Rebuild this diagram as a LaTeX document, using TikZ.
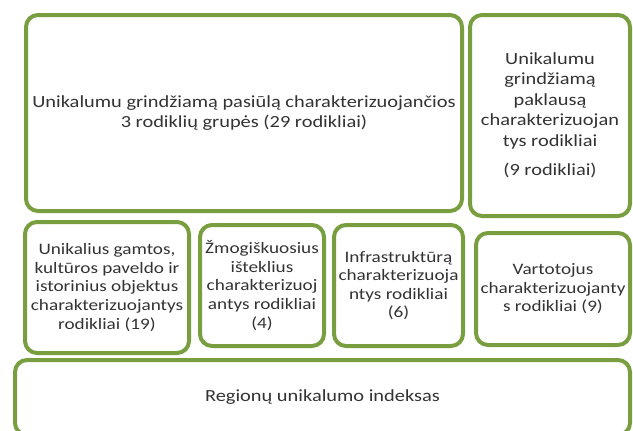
\documentclass[tikz,border=0pt]{standalone}
\usepackage{fontspec}
\setmainfont{Carlito}[FakeStretch=1.2]
\usepackage{tikz}
\definecolor{boxgreen}{RGB}{120,158,64}

\begin{document}
\begin{tikzpicture}[x=1pt, y=-1pt]
    % Styles
    \tikzstyle{group} = [rectangle, rounded corners=12pt, draw=boxgreen, line width=4pt, fill=white, align=center, inner sep=0pt, text=black!80]
    \tikzstyle{big} = [font=\fontsize{17}{20.5}\selectfont]
    \tikzstyle{small} = [font=\fontsize{16}{18.6}\selectfont]

    \useasboundingbox (0,0) rectangle (633,431);
    \clip (0,0) rectangle (633,431);

    % Top row
    \node[group, big, minimum width=436pt, minimum height=196pt] (supply) at (244,113) {Unikalumu grindžiamą pasiūlą charakterizuojančios\\3 rodiklių grupės (29 rodikliai)};
    \node[group, big, minimum width=160pt, minimum height=201pt] (demand) at (550,115.5) {Unikalumu\\grindžiamą\\paklausą\\charakterizuojan\\tys rodikliai\\[9pt](9 rodikliai)};

    % Middle row
    \node[group, small, minimum width=164pt, minimum height=131pt] (heritage) at (107,287.5) {Unikalius gamtos,\\kultūros paveldo ir\\istorinius objektus\\charakterizuojantys\\rodikliai (19)};
    \node[group, small, minimum width=124pt, minimum height=121pt] (human) at (262,285.5) {Žmogiškuosius\\išteklius\\charakterizuoj\\antys rodikliai\\(4)};
    \node[group, small, minimum width=129pt, minimum height=121pt] (infra) at (398.5,285.5) {Infrastruktūrą\\charakterizuoja\\ntys rodikliai\\(6)};
    \node[group, small, minimum width=154pt, minimum height=112pt] (visitors) at (553,289) {Vartotojus\\charakterizuojanty\\s rodikliai (9)};

    % Bottom
    \node[group, big, minimum width=615pt, minimum height=75pt] (index) at (322.5,397.5) {Regionų unikalumo indeksas};
\end{tikzpicture}
\end{document}
